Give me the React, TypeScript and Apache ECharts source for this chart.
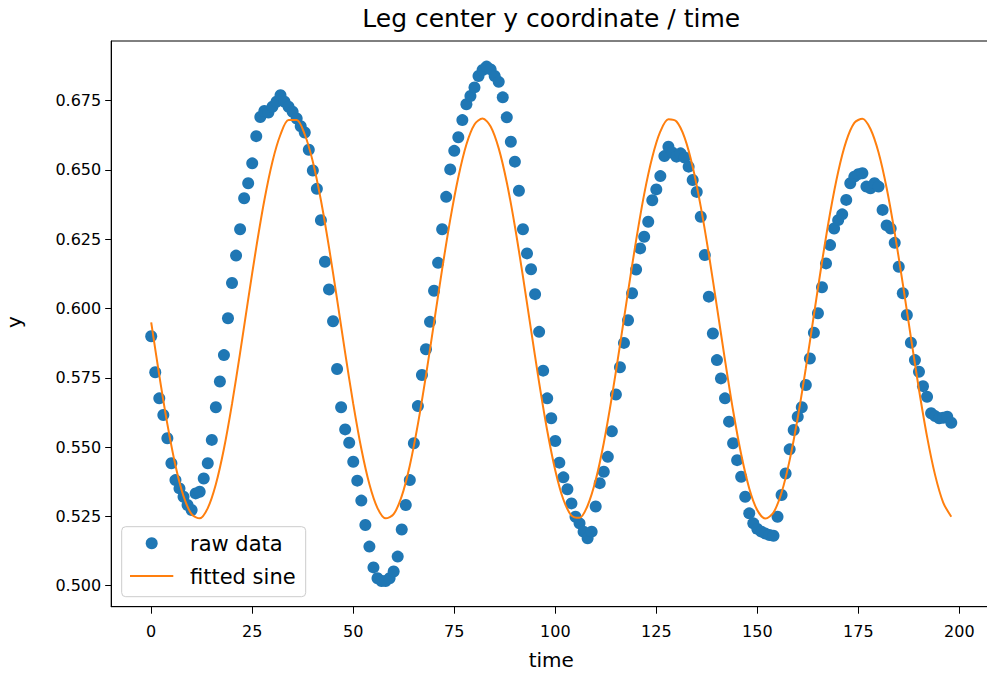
import React, { useEffect, useRef } from 'react';
import * as echarts from 'echarts';

const TITLE = 'Leg center y coordinate / time';
const X_NAME = 'time';
const Y_NAME = 'y';
const LEGEND_LABELS = ['raw data', 'fitted sine'];
const X_TICKS = [0, 25, 50, 75, 100, 125, 150, 175, 200];
const Y_TICKS = [0.5, 0.525, 0.55, 0.575, 0.6, 0.625, 0.65, 0.675];

// raw data, one value per time step t = 0..198
const RAW_Y = [
  0.590, 0.577, 0.5676, 0.5616, 0.5532, 0.5442, 0.5381, 0.5351, 0.5321, 0.5291,
  0.5273, 0.5333, 0.5339, 0.5387, 0.5442, 0.5526, 0.5644, 0.5737, 0.5832, 0.5965,
  0.6092, 0.6191, 0.6286, 0.6398, 0.6452, 0.6524, 0.6622, 0.6691, 0.6713, 0.6707,
  0.6728, 0.6746, 0.6770, 0.6746, 0.6728, 0.6710, 0.6686, 0.6658, 0.6635, 0.6573,
  0.6498, 0.6432, 0.6319, 0.6169, 0.6069, 0.5954, 0.5782, 0.5644, 0.5564, 0.5516,
  0.5447, 0.5379, 0.5307, 0.5219, 0.5141, 0.5066, 0.5027, 0.5017, 0.5017, 0.5027,
  0.5051, 0.5105, 0.5203, 0.5291, 0.5381, 0.5514, 0.5648, 0.5760, 0.5853, 0.5952,
  0.6064, 0.6165, 0.6286, 0.6403, 0.6502, 0.6569, 0.6618, 0.6680, 0.6737, 0.6767,
  0.6798, 0.6839, 0.6861, 0.6873, 0.6863, 0.6839, 0.6818, 0.6762, 0.6690, 0.6602,
  0.6530, 0.6425, 0.6286, 0.6199, 0.6142, 0.6052, 0.5916, 0.5776, 0.5676, 0.5604,
  0.5522, 0.5444, 0.5391, 0.5348, 0.5297, 0.5249, 0.5225, 0.5195, 0.5171, 0.5195,
  0.5286, 0.5370, 0.5411, 0.5465, 0.5557, 0.5690, 0.5788, 0.5876, 0.5958, 0.6055,
  0.6141, 0.6217, 0.6259, 0.6313, 0.6391, 0.6430, 0.6478, 0.6550, 0.6584, 0.6562,
  0.6548, 0.6560, 0.6545, 0.6512, 0.6464, 0.6421, 0.6331, 0.6193, 0.6043, 0.5910,
  0.5814, 0.5748, 0.5676, 0.5592, 0.5514, 0.5453, 0.5393, 0.5321, 0.5261, 0.5225,
  0.5205, 0.5195, 0.5188, 0.5183, 0.5180, 0.5249, 0.5327, 0.5405, 0.5492, 0.5562,
  0.5610, 0.5644, 0.5724, 0.5820, 0.5913, 0.5983, 0.6077, 0.6163, 0.6229, 0.6289,
  0.6319, 0.6340, 0.6392, 0.6452, 0.6476, 0.6485, 0.6488, 0.6440, 0.6434, 0.6452,
  0.6440, 0.6356, 0.6300, 0.6289, 0.6237, 0.6151, 0.6055, 0.5977, 0.5877, 0.5814,
  0.5772, 0.5720, 0.5682, 0.5622, 0.5612, 0.5604, 0.5606, 0.5610, 0.5588,
];

// fitted sine, read every 2 time units (t = 0, 2, ..., 198)
const FIT_Y = [
  0.5950, 0.5759, 0.5583, 0.5434, 0.5323, 0.5258, 0.5243, 0.5280, 0.5366, 0.5494,
  0.5656, 0.5840, 0.6033, 0.6221, 0.6391, 0.6530, 0.6628, 0.6680, 0.6680, 0.6628,
  0.6530, 0.6391, 0.6221, 0.6033, 0.5840, 0.5656, 0.5494, 0.5366, 0.5280, 0.5243,
  0.5258, 0.5323, 0.5434, 0.5583, 0.5759, 0.5950, 0.6142, 0.6321, 0.6474, 0.6592,
  0.6664, 0.6686, 0.6657, 0.6578, 0.6455, 0.6297, 0.6115, 0.5923, 0.5733, 0.5560,
  0.5416, 0.5311, 0.5253, 0.5245, 0.5289, 0.5381, 0.5515, 0.5681, 0.5867, 0.6060,
  0.6246, 0.6413, 0.6546, 0.6639, 0.6683, 0.6675, 0.6617, 0.6512, 0.6368, 0.6196,
  0.6006, 0.5814, 0.5632, 0.5474, 0.5351, 0.5272, 0.5242, 0.5264, 0.5336, 0.5453,
  0.5606, 0.5785, 0.5977, 0.6168, 0.6344, 0.6493, 0.6604, 0.6670, 0.6685, 0.6648,
  0.6563, 0.6435, 0.6273, 0.6089, 0.5896, 0.5708, 0.5538, 0.5399, 0.5300, 0.5249,
];
const FIT_STEP = 2;

const FONT = '"DejaVu Sans", sans-serif';

export default function App() {
  const ref = useRef<HTMLDivElement>(null);

  useEffect(() => {
    if (!ref.current) return;
    const chart = echarts.init(ref.current, null, { renderer: 'svg' });

    const rawData = RAW_Y.map((v, i) => [i, v]);
    const fitData = FIT_Y.map((v, i) => [i * FIT_STEP, v]);

    const gridLeft = 111.2;
    const gridTop = 41;
    const gridRight = 991.3;
    const gridBottom = 606.7;

    chart.setOption({
      animation: false,
      backgroundColor: '#ffffff',
      textStyle: { fontFamily: FONT },
      grid: {
        left: gridLeft,
        top: gridTop,
        width: gridRight - gridLeft,
        height: gridBottom - gridTop,
        show: true,
        borderColor: '#000000',
        borderWidth: 1,
        backgroundColor: 'transparent',
      },
      xAxis: {
        type: 'value',
        min: -9.9,
        max: 207.9,
        axisLine: { show: true, onZero: false, lineStyle: { color: '#000', width: 1 } },
        axisTick: { show: true, length: 7, customValues: X_TICKS, lineStyle: { color: '#000', width: 1 } },
        axisLabel: {
          show: true,
          customValues: X_TICKS,
          formatter: (v: number) => String(Math.round(v)),
          color: '#000',
          fontSize: 16,
          fontFamily: FONT,
          margin: 17,
        },
        splitLine: { show: false },
      },
      yAxis: {
        type: 'value',
        min: 0.49242,
        max: 0.69654,
        axisLine: { show: true, onZero: false, lineStyle: { color: '#000', width: 1 } },
        axisTick: { show: true, length: 6, customValues: Y_TICKS, lineStyle: { color: '#000', width: 1 } },
        axisLabel: {
          show: true,
          customValues: Y_TICKS,
          formatter: (v: number) => v.toFixed(3),
          color: '#000',
          fontSize: 16,
          fontFamily: FONT,
          margin: 10,
        },
        splitLine: { show: false },
      },
      series: [
        {
          name: LEGEND_LABELS[0],
          type: 'scatter',
          data: rawData,
          symbol: 'circle',
          symbolSize: 12,
          itemStyle: { color: '#1f77b4', opacity: 1 },
          z: 2,
          silent: true,
        },
        {
          name: LEGEND_LABELS[1],
          type: 'line',
          data: fitData,
          showSymbol: false,
          smooth: 0.3,
          lineStyle: { color: '#ff7f0e', width: 2 },
          z: 3,
          silent: true,
        },
      ],
      graphic: [
        {
          type: 'text',
          x: (gridLeft + gridRight) / 2,
          y: 18,
          z: 100,
          style: {
            text: TITLE,
            fill: '#000',
            font: `25px ${FONT}`,
            textAlign: 'center',
            textVerticalAlign: 'middle',
          },
        },
        {
          type: 'text',
          x: (gridLeft + gridRight) / 2,
          y: 660,
          z: 100,
          style: {
            text: X_NAME,
            fill: '#000',
            font: `20px ${FONT}`,
            textAlign: 'center',
            textVerticalAlign: 'middle',
          },
        },
        {
          type: 'text',
          x: 14,
          y: 322,
          rotation: Math.PI / 2,
          z: 100,
          style: {
            text: Y_NAME,
            fill: '#000',
            font: `20px ${FONT}`,
            textAlign: 'center',
            textVerticalAlign: 'middle',
          },
        },
        {
          type: 'group',
          z: 100,
          children: [
            {
              type: 'rect',
              shape: { x: 121.7, y: 526.7, width: 184, height: 70, r: 4 },
              style: { fill: 'rgba(255,255,255,0.8)', stroke: '#cccccc', lineWidth: 1 },
            },
            {
              type: 'circle',
              shape: { cx: 151.7, cy: 543.3, r: 6 },
              style: { fill: '#1f77b4' },
            },
            {
              type: 'line',
              shape: { x1: 130, y1: 576, x2: 173.3, y2: 576 },
              style: { stroke: '#ff7f0e', lineWidth: 2 },
            },
            {
              type: 'text',
              x: 190,
              y: 544,
              style: {
                text: LEGEND_LABELS[0],
                fill: '#000',
                font: `21px ${FONT}`,
                textAlign: 'left',
                textVerticalAlign: 'middle',
              },
            },
            {
              type: 'text',
              x: 190,
              y: 577,
              style: {
                text: LEGEND_LABELS[1],
                fill: '#000',
                font: `21px ${FONT}`,
                textAlign: 'left',
                textVerticalAlign: 'middle',
              },
            },
          ],
        },
      ],
    });

    return () => chart.dispose();
  }, []);

  return (
    <div
      style={{
        position: 'fixed',
        left: 0,
        top: 0,
        width: 987,
        height: 673,
        overflow: 'hidden',
        background: '#ffffff',
      }}
    >
      <div ref={ref} style={{ width: 1000, height: 673 }} />
    </div>
  );
}
